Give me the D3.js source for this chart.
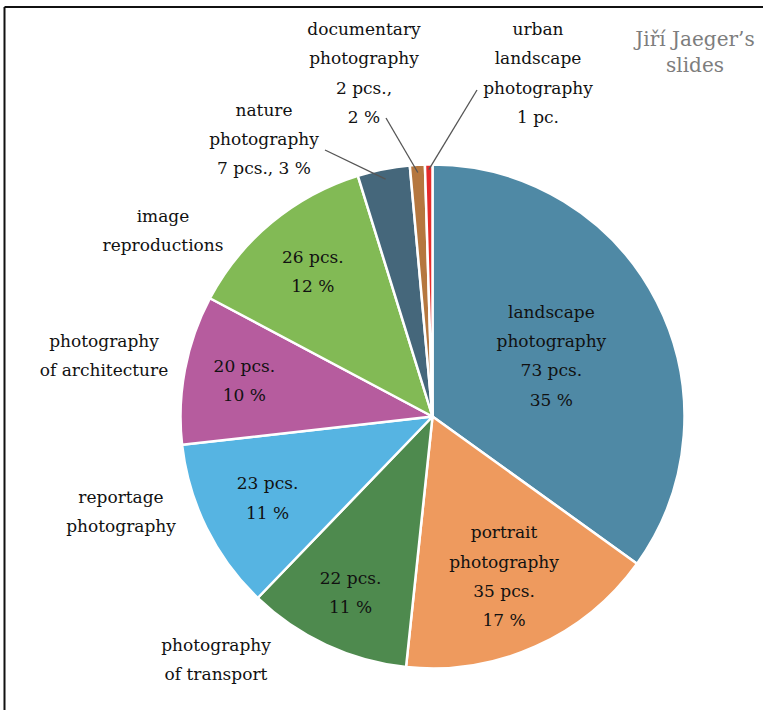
<!DOCTYPE html>
<html>
<head>
<meta charset="utf-8">
<script src="https://cdn.jsdelivr.net/npm/d3@7"></script>
<style>
  html, body { margin: 0; padding: 0; background: #fff; }
  svg { display: block; }
</style>
</head>
<body>
<svg id="chart" width="763" height="710"></svg>
<script>
// Categories, clockwise from 12 o'clock
const categories = [
  'landscape photography', 'portrait photography', 'photography of transport',
  'reportage photography', 'photography of architecture', 'image reproductions',
  'nature photography', 'documentary photography', 'urban landscape photography'
];
const counts = [73, 35, 22, 23, 20, 26, 7, 2, 1];
const percents = [35, 17, 11, 11, 10, 12, 3, 2, null];
const colors = ['#4f89a5', '#ee9a5e', '#4e8a4e', '#56b4e2', '#b65c9e',
                '#82ba55', '#45677b', '#b5773f', '#e52b2b'];

// Text shown on / next to each slice
const insideText = [
  ['landscape', 'photography', '73 pcs.', '35 %'],
  ['portrait', 'photography', '35 pcs.', '17 %'],
  ['22 pcs.', '11 %'],
  ['23 pcs.', '11 %'],
  ['20 pcs.', '10 %'],
  ['26 pcs.', '12 %'],
  null, null, null
];
const outsideText = [
  null, null,
  ['photography', 'of transport'],
  ['reportage', 'photography'],
  ['photography', 'of architecture'],
  ['image', 'reproductions'],
  ['nature', 'photography', '7 pcs., 3 %'],
  ['documentary', 'photography', '2 pcs.,', '2 %'],
  ['urban', 'landscape', 'photography', '1 pc.']
];

const svg = d3.select('#chart');
const cx = 432.5, cy = 416.5, radius = 252;
const lineH = 29.3;
const serif = 'DejaVu Serif';

// frame (top + left edges visible)
svg.append('line').attr('x1', 4.5).attr('x2', 763).attr('y1', 7).attr('y2', 7)
  .attr('stroke', '#111').attr('stroke-width', 2);
svg.append('line').attr('x1', 4.5).attr('x2', 4.5).attr('y1', 7).attr('y2', 710)
  .attr('stroke', '#111').attr('stroke-width', 2);

const pie = d3.pie().sort(null).value(d => d);
const arcs = pie(counts);
const arc = d3.arc().innerRadius(0).outerRadius(radius);

const g = svg.append('g').attr('transform', `translate(${cx},${cy})`);

g.selectAll('path.slice')
  .data(arcs)
  .enter()
  .append('path')
  .attr('class', 'slice')
  .attr('d', arc)
  .attr('fill', (d, i) => colors[i])
  .attr('stroke', '#fff')
  .attr('stroke-width', 2.5)
  .attr('stroke-linejoin', 'round');

// inside labels: radius as a fraction of the pie radius
const labelFrac = [0.53, 0.695, 0.77, 0.73, 0.76, 0.745];
function writeLines(parent, x, y, lines, size, fill) {
  const t = parent.append('text')
    .attr('text-anchor', 'middle')
    .style('font-family', serif)
    .attr('font-size', size)
    .attr('fill', fill || '#111');
  const y0 = y - (lines.length - 1) * lineH / 2;
  lines.forEach((s, k) => {
    t.append('tspan').attr('x', x).attr('y', y0 + k * lineH).attr('dy', '0.35em').text(s);
  });
}

arcs.forEach((d, i) => {
  if (!insideText[i]) return;
  const r = radius * labelFrac[i];
  const a = (d.startAngle + d.endAngle) / 2;
  writeLines(g, Math.sin(a) * r, -Math.cos(a) * r, insideText[i], 17);
});

// outside label anchors (centre of text block) in page coordinates
const outsidePos = {
  2: [216, 659.5],
  3: [121, 511.5],
  4: [104, 355.5],
  5: [163, 230.5],
  6: [264, 139],
  7: [364, 73],
  8: [538, 73]
};
Object.keys(outsidePos).forEach(k => {
  const [x, y] = outsidePos[k];
  writeLines(svg, x, y, outsideText[k], 17);
});

// leader lines for the small slices
const leaderFrom = { 6: [325, 150], 7: [386, 118], 8: [477, 90] };
const leaderR = { 6: 0.96, 7: 0.97, 8: 0.98 };
Object.keys(leaderFrom).forEach(k => {
  const d = arcs[k];
  const a = (d.startAngle + d.endAngle) / 2;
  const r = radius * leaderR[k];
  svg.append('line')
    .attr('x1', leaderFrom[k][0]).attr('y1', leaderFrom[k][1])
    .attr('x2', cx + Math.sin(a) * r).attr('y2', cy - Math.cos(a) * r)
    .attr('stroke', '#555').attr('stroke-width', 1.3);
});

// corner note
const note = svg.append('text')
  .attr('text-anchor', 'middle')
  .style('font-family', serif)
  .attr('font-size', 20)
  .attr('fill', '#7d7d7d');
note.append('tspan').attr('x', 695).attr('y', 39).attr('dy', '0.35em').text('Jiří Jaeger’s');
note.append('tspan').attr('x', 695).attr('y', 65).attr('dy', '0.35em').text('slides');
</script>
</body>
</html>
